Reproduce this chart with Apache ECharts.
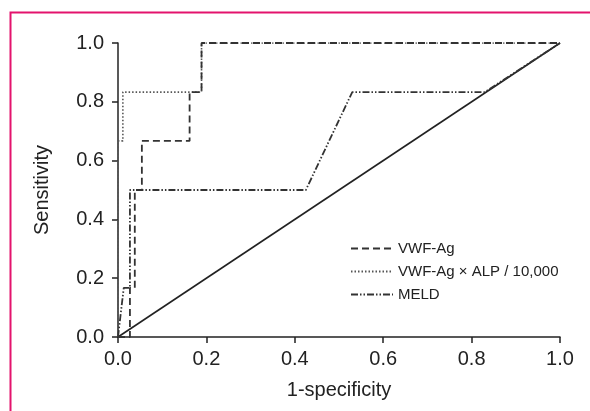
<!DOCTYPE html>
<html><head><meta charset="utf-8">
<script src="https://cdn.jsdelivr.net/npm/echarts@6/dist/echarts.min.js"></script>
<style>html,body{margin:0;padding:0;background:#fff}#c{width:590px;height:411px}</style>
</head><body><div id="c"></div>
<script>
const seriesNames = ['VWF-Ag', 'VWF-Ag \u00d7 ALP / 10,000', 'MELD'];
const vwfX  = [0, 0.027, 0.027, 0.038, 0.038, 0.054, 0.054, 0.162, 0.162, 0.189, 0.189, 1];
const vwfY  = [0, 0,     0.167, 0.167, 0.5,   0.5,   0.667, 0.667, 0.833, 0.833, 1,     1];
const prodX = [0, 0,     0.011, 0.011, 0.162, 0.189, 0.189, 1];
const prodY = [0, 0.667, 0.667, 0.833, 0.833, 0.833, 1,     1];
const meldX = [0, 0.013, 0.027, 0.027, 0.425, 0.53,  0.83,  1];
const meldY = [0, 0.167, 0.167, 0.5,   0.5,   0.833, 0.833, 1];
const refX = [0, 1];
const refY = [0, 1];
const tickValues = [0, 0.2, 0.4, 0.6, 0.8, 1.0];

const pairs = (xs, ys) => xs.map((x, i) => [x, ys[i]]);
const FONT = 'Liberation Sans, Arial, sans-serif';
const ink = '#222';

const axisCommon = {
  type: 'value', min: 0, max: 1, interval: 0.2,
  axisLine: {show: true, lineStyle: {color: ink, width: 1.5}},
  axisTick: {show: true, inside: false, length: 6, lineStyle: {color: ink, width: 1.5}},
  splitLine: {show: false},
  axisLabel: {color: ink, fontSize: 20, fontFamily: FONT, formatter: v => v.toFixed(1)},
  nameLocation: 'middle',
  nameTextStyle: {color: ink, fontSize: 20, fontFamily: FONT}
};

const chart = echarts.init(document.getElementById('c'), null, {renderer: 'canvas'});
chart.setOption({
  animation: false,
  backgroundColor: '#fff',
  graphic: [{
    type: 'rect', left: 8, top: 10, silent: true,
    shape: {width: 640, height: 440},
    style: {fill: 'none', stroke: '#e3136d', lineWidth: 2}
  }],
  grid: {left: 118, right: 30, top: 43, bottom: 74},
  xAxis: Object.assign({}, axisCommon, {
    name: '1-specificity', nameGap: 43,
    axisLabel: Object.assign({}, axisCommon.axisLabel, {margin: 12})
  }),
  yAxis: Object.assign({}, axisCommon, {
    name: 'Sensitivity', nameGap: 66,
    axisLabel: Object.assign({}, axisCommon.axisLabel, {margin: 14})
  }),
  legend: {
    data: seriesNames,
    orient: 'vertical', left: 345, top: 236,
    itemWidth: 42, itemHeight: 14, itemGap: 8,
    itemStyle: {opacity: 0},
    textStyle: {color: ink, fontSize: 15, fontFamily: FONT}
  },
  series: [
    {name: 'ref', type: 'line', data: pairs(refX, refY), symbol: 'none',
     itemStyle: {color: ink},
     lineStyle: {color: ink, width: 1.6, type: 'solid'}, z: 1},
    {name: seriesNames[1], type: 'line', data: pairs(prodX, prodY), symbol: 'none',
     itemStyle: {color: '#555'},
     lineStyle: {color: '#555', width: 1.6, type: [1.5, 2]}, z: 2},
    {name: seriesNames[2], type: 'line', data: pairs(meldX, meldY), symbol: 'none',
     itemStyle: {color: '#333'},
     lineStyle: {color: '#333', width: 1.8, type: [7, 2, 1.5, 2, 1.5, 2]}, z: 3},
    {name: seriesNames[0], type: 'line', data: pairs(vwfX, vwfY), symbol: 'none',
     itemStyle: {color: '#333'},
     lineStyle: {color: '#333', width: 1.8, type: [7, 4]}, z: 4}
  ]
});
</script></body></html>
